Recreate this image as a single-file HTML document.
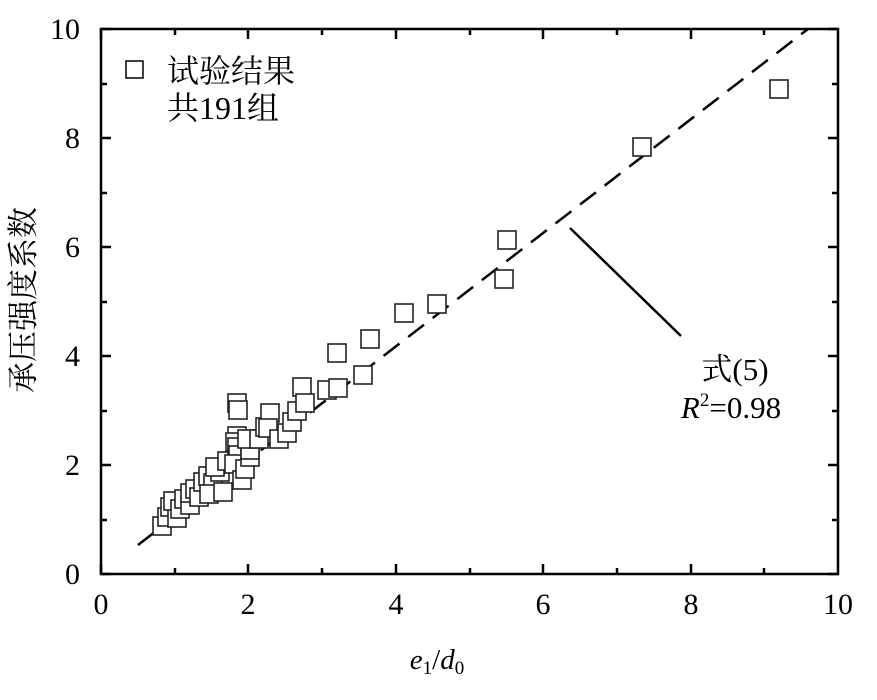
<!DOCTYPE html>
<html><head><meta charset="utf-8"><style>
body{margin:0;background:#fff}
svg text{font-family:"Liberation Serif","Noto Serif CJK SC",serif;fill:#000}
</style></head><body>
<svg width="877" height="695" viewBox="0 0 877 695" xmlns="http://www.w3.org/2000/svg">
<rect width="877" height="695" fill="#fff"/>
<rect x="101" y="29" width="737" height="545" fill="none" stroke="#000" stroke-width="2.5"/>
<g stroke="#000" stroke-width="2.5">
<path d="M101,574v-10M175,574v-6M248,574v-10M322,574v-6M396,574v-10M470,574v-6M543,574v-10M617,574v-6M691,574v-10M764,574v-6M101,29v10M175,29v6M248,29v10M322,29v6M396,29v10M470,29v6M543,29v10M617,29v6M691,29v10M764,29v6M101,574h10M101,520h6M101,465h10M101,411h6M101,356h10M101,302h6M101,247h10M101,193h6M101,138h10M101,84h6M101,29h10M838,574h-10M838,520h-6M838,465h-10M838,411h-6M838,356h-10M838,302h-6M838,247h-10M838,193h-6M838,138h-10M838,84h-6M838,29h-10"/>
</g>
<g font-size="30" text-anchor="middle">
<text x="101" y="614">0</text><text x="248" y="614">2</text><text x="396" y="614">4</text><text x="543" y="614">6</text><text x="691" y="614">8</text><text x="838" y="614">10</text>
</g>
<g font-size="30" text-anchor="end">
<text x="80" y="584">0</text><text x="80" y="475">2</text><text x="80" y="366">4</text><text x="80" y="257">6</text><text x="80" y="148">8</text><text x="80" y="39">10</text>
</g>
<text x="437" y="669" font-size="29" text-anchor="middle"><tspan font-style="italic">e</tspan><tspan font-size="19" dy="5">1</tspan><tspan dy="-5">/</tspan><tspan font-style="italic">d</tspan><tspan font-size="19" dy="5">0</tspan></text>
<text transform="translate(34,300) rotate(-90)" font-size="31" text-anchor="middle">承压强度系数</text>
<rect x="126" y="61" width="17" height="17" fill="none" stroke="#000" stroke-width="1.5"/>
<text x="167" y="82" font-size="32">试验结果</text>
<text x="167" y="119" font-size="32">共191组</text>
<line x1="138" y1="545" x2="808" y2="29" stroke="#000" stroke-width="2.5" stroke-dasharray="20,11"/>
<line x1="570" y1="228" x2="681" y2="336" stroke="#000" stroke-width="2.5"/>
<text x="735" y="380" font-size="31" text-anchor="middle">式(5)</text>
<text x="731" y="418" font-size="31" text-anchor="middle"><tspan font-style="italic">R</tspan><tspan font-size="19" dy="-12">2</tspan><tspan dy="12">=0.98</tspan></text>
<g fill="#fff" stroke="#222" stroke-width="1.6">
<rect x="153" y="517" width="18" height="18"/>
<rect x="158" y="508" width="18" height="18"/>
<rect x="161" y="498" width="18" height="18"/>
<rect x="168" y="509" width="18" height="18"/>
<rect x="164" y="492" width="18" height="18"/>
<rect x="171" y="500" width="18" height="18"/>
<rect x="175" y="490" width="18" height="18"/>
<rect x="181" y="496" width="18" height="18"/>
<rect x="181" y="484" width="18" height="18"/>
<rect x="186" y="480" width="18" height="18"/>
<rect x="190" y="488" width="18" height="18"/>
<rect x="194" y="473" width="18" height="18"/>
<rect x="199" y="467" width="18" height="18"/>
<rect x="204" y="474" width="18" height="18"/>
<rect x="200" y="485" width="18" height="18"/>
<rect x="214" y="483" width="18" height="18"/>
<rect x="211" y="463" width="18" height="18"/>
<rect x="206" y="458" width="18" height="18"/>
<rect x="218" y="452" width="18" height="18"/>
<rect x="228" y="427" width="18" height="18"/>
<rect x="226" y="433" width="18" height="18"/>
<rect x="228" y="438" width="18" height="18"/>
<rect x="229" y="446" width="18" height="18"/>
<rect x="225" y="455" width="18" height="18"/>
<rect x="233" y="471" width="18" height="18"/>
<rect x="236" y="460" width="18" height="18"/>
<rect x="241" y="448" width="18" height="18"/>
<rect x="241" y="441" width="18" height="18"/>
<rect x="238" y="430" width="18" height="18"/>
<rect x="228" y="394" width="18" height="18"/>
<rect x="229" y="401" width="18" height="18"/>
<rect x="250" y="430" width="18" height="18"/>
<rect x="256" y="418" width="18" height="18"/>
<rect x="261" y="404" width="18" height="18"/>
<rect x="259" y="419" width="18" height="18"/>
<rect x="270" y="430" width="18" height="18"/>
<rect x="278" y="424" width="18" height="18"/>
<rect x="283" y="413" width="18" height="18"/>
<rect x="288" y="402" width="18" height="18"/>
<rect x="293" y="378" width="18" height="18"/>
<rect x="296" y="394" width="18" height="18"/>
<rect x="318" y="381" width="18" height="18"/>
<rect x="329" y="379" width="18" height="18"/>
<rect x="354" y="366" width="18" height="18"/>
<rect x="328" y="344" width="18" height="18"/>
<rect x="361" y="330" width="18" height="18"/>
<rect x="395" y="304" width="18" height="18"/>
<rect x="428" y="295" width="18" height="18"/>
<rect x="495" y="270" width="18" height="18"/>
<rect x="498" y="231" width="18" height="18"/>
<rect x="633" y="138" width="18" height="18"/>
<rect x="770" y="80" width="18" height="18"/>
</g>
</svg>
</body></html>
